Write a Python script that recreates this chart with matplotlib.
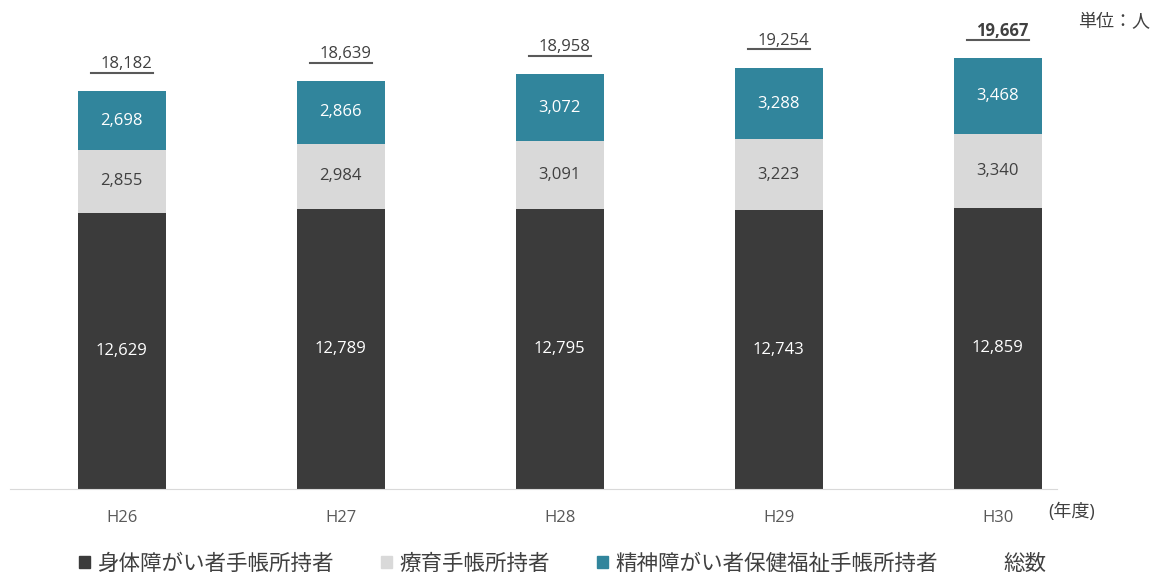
import matplotlib.pyplot as plt
from matplotlib.lines import Line2D
from matplotlib.patches import Patch

plt.rcParams['font.family'] = ['Open Sans', 'Noto Sans CJK JP', 'DejaVu Sans']

# データ
years = ['H26', 'H27', 'H28', 'H29', 'H30']
shintai = [12629, 12789, 12795, 12743, 12859]
ryoiku = [2855, 2984, 3091, 3223, 3340]
seishin = [2698, 2866, 3072, 3288, 3468]
totals = [18182, 18639, 18958, 19254, 19667]

c_dark = '#3b3b3b'
c_gray = '#d9d9d9'
c_teal = '#31859c'

fig = plt.figure(figsize=(11.58, 5.73), dpi=100)
ax = fig.add_axes([10 / 1158, 1 - 489 / 573, 1047 / 1158, 469 / 573])

x = list(range(len(years)))
w = 0.4
b1 = ax.bar(x, shintai, w, color=c_dark)
b2 = ax.bar(x, ryoiku, w, bottom=shintai, color=c_gray)
bot3 = [a + b for a, b in zip(shintai, ryoiku)]
b3 = ax.bar(x, seishin, w, bottom=bot3, color=c_teal)

ax.set_xlim(-0.51, 4.27)
ax.set_ylim(0, 21425)

# 各区分の数値
for i in x:
    ax.text(i, shintai[i] / 2, f'{shintai[i]:,}', ha='center', va='center',
            color='white', fontsize=12)
    ax.text(i, shintai[i] + ryoiku[i] / 2, f'{ryoiku[i]:,}', ha='center', va='center',
            color='#404040', fontsize=12)
    ax.text(i, bot3[i] + seishin[i] / 2, f'{seishin[i]:,}', ha='center', va='center',
            color='white', fontsize=12)

# 総数（下線付き）
tot_texts = []
for i in x:
    t = ax.text(i + 0.02, totals[i] + 850, f'{totals[i]:,}', ha='center', va='bottom',
                color='#404040', fontsize=12,
                fontweight='bold' if i == len(x) - 1 else 'normal')
    tot_texts.append(t)

for s in ['top', 'right', 'left']:
    ax.spines[s].set_visible(False)
ax.spines['bottom'].set_color('#d9d9d9')
ax.set_yticks([])
ax.set_xticks(x)
ax.set_xticklabels(years, fontsize=12, color='#595959')
ax.tick_params(axis='x', length=0, pad=15)

fig.text(1048 / 1158, 1 - 512 / 573, '(年度)', fontsize=13, color='#404040',
         ha='left', va='center')
fig.text(1150 / 1158, 1 - 22 / 573, '単位：人', fontsize=13, color='#404040',
         ha='right', va='center')

handles = [Patch(color=c_dark), Patch(color=c_gray), Patch(color=c_teal),
           Patch(color='white')]
labels = ['身体障がい者手帳所持者', '療育手帳所持者', '精神障がい者保健福祉手帳所持者', '総数']
fig.legend(handles, labels, loc='center', bbox_to_anchor=(0.486, 1 - 564 / 573),
           ncol=4, frameon=False, fontsize=15.5, handlelength=0.5, handleheight=0.5,
           handletextpad=0.35, columnspacing=2.2, labelcolor='#404040')

# 下線
fig.canvas.draw()
for t in tot_texts:
    bb = t.get_window_extent()
    y0 = bb.y0 - 0.5
    fig.add_artist(Line2D([bb.x0 - 9, bb.x1 + 1], [y0, y0], color='#595959', lw=1.5,
                          transform=None))

fig.savefig('out.png', dpi=100)
